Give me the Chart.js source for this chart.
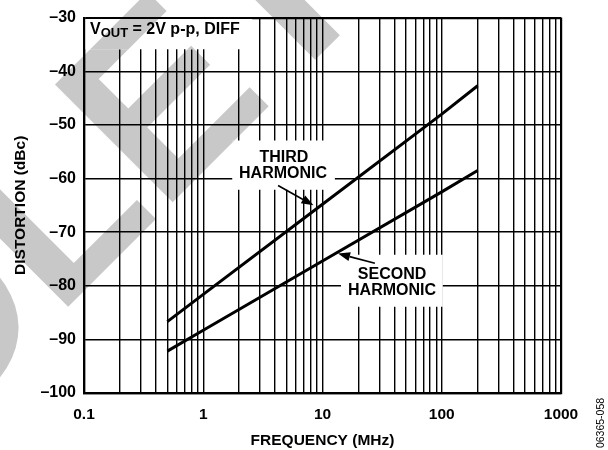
<!DOCTYPE html>
<html>
<head>
<meta charset="utf-8">
<script src="https://cdn.jsdelivr.net/npm/chart.js@4/dist/chart.umd.min.js"></script>
<style>
  html, body { margin: 0; padding: 0; background: #fff; }
</style>
</head>
<body>
<canvas id="myChart" width="608" height="450"></canvas>
<script>
const frequencyMHz = [0.5, 1, 10, 100, 200]
const thirdHarmonic = [-86.7, -81.6, -64.8, -48.0, -42.7]
const secondHarmonic = [-92.2, -88.3, -75.4, -62.5, -58.5]
const xTickLabels = [0.1, 1, 10, 100, 1000]
const yTickLabels = [-100, -90, -80, -70, -60, -50, -40, -30]

const FONT = '"Liberation Sans", Arial, Helvetica, sans-serif'

// minor grid on the log axis: 1..9 in each decade
const xGridValues = []
xTickLabels.slice(0, -1).forEach(decade => {
  for (let m = 1; m <= 9; m++) xGridValues.push(decade * m)
})
xGridValues.push(xTickLabels[xTickLabels.length - 1])

// label boxes that cut the grid (data units)
const labelBoxes = [
  { x: [0.1, 2.5], y: [-30, -35.6] },
  { x: [1.75, 12.7], y: [-52.9, -62.1] },
  { x: [14.3, 102], y: [-74.2, -83.9] }
]

function drawWatermark (ctx) {
  ctx.save()
  ctx.fillStyle = '#c8c8c8'
  ctx.font = 'bold 242px ' + FONT
  ctx.textBaseline = 'alphabetic'
  ctx.translate(68, 307)
  ctx.rotate(-Math.PI / 4)
  const lead = ctx.measureText('OBSO').width - ctx.measureText('L').actualBoundingBoxLeft
  ctx.fillText('OBSOLETE', -lead, 0)
  ctx.restore()
}

function drawArrow (ctx, x0, y0, x1, y1) {
  const ang = Math.atan2(y1 - y0, x1 - x0)
  const head = 12
  const half = 4.5
  const bx = x1 - head * Math.cos(ang)
  const by = y1 - head * Math.sin(ang)
  ctx.beginPath()
  ctx.moveTo(x0, y0)
  ctx.lineTo(bx, by)
  ctx.lineWidth = 1.6
  ctx.strokeStyle = '#000'
  ctx.stroke()
  ctx.beginPath()
  ctx.moveTo(x1, y1)
  ctx.lineTo(bx + half * Math.sin(ang), by - half * Math.cos(ang))
  ctx.lineTo(bx - half * Math.sin(ang), by + half * Math.cos(ang))
  ctx.closePath()
  ctx.fillStyle = '#000'
  ctx.fill()
}

const decorations = {
  id: 'decorations',
  beforeDraw (chart) {
    const ctx = chart.ctx
    ctx.save()
    ctx.fillStyle = '#fff'
    ctx.fillRect(0, 0, chart.width, chart.height)
    ctx.restore()
    drawWatermark(ctx)
  },
  beforeDatasetsDraw (chart) {
    const ctx = chart.ctx
    const xs = chart.scales.x
    const ys = chart.scales.y
    ctx.save()
    ctx.beginPath()
    labelBoxes.forEach(b => {
      const l = xs.getPixelForValue(b.x[0])
      const r = xs.getPixelForValue(b.x[1])
      const t = ys.getPixelForValue(b.y[0])
      const btm = ys.getPixelForValue(b.y[1])
      ctx.rect(l + (b.x[0] === 0.1 ? 1.5 : 0), t + (b.y[0] === -30 ? 1.5 : 0), r - l, btm - t)
    })
    ctx.clip()
    ctx.fillStyle = '#fff'
    ctx.fillRect(0, 0, chart.width, chart.height)
    drawWatermark(ctx)
    ctx.restore()
  },
  afterDatasetsDraw (chart) {
    const ctx = chart.ctx
    const xs = chart.scales.x
    const ys = chart.scales.y
    const px = v => xs.getPixelForValue(v)
    const py = v => ys.getPixelForValue(v)
    ctx.save()
    ctx.fillStyle = '#000'
    ctx.textBaseline = 'alphabetic'

    // V_OUT label
    ctx.textAlign = 'left'
    ctx.font = 'bold 16px ' + FONT
    let x = chart.chartArea.left + 6
    ctx.fillText('V', x, 33.5)
    x += ctx.measureText('V').width
    ctx.font = 'bold 13px ' + FONT
    ctx.fillText('OUT', x, 37)
    x += ctx.measureText('OUT').width
    ctx.font = 'bold 16px ' + FONT
    ctx.fillText(' = 2V p-p, DIFF', x, 33.5)

    // curve labels
    ctx.textAlign = 'center'
    ctx.fillText('THIRD', px(4.75), py(-56.9))
    ctx.fillText('HARMONIC', px(4.67), py(-60.0))
    ctx.fillText('SECOND', px(38.3), py(-78.8))
    ctx.fillText('HARMONIC', px(38.3), py(-81.7))

    drawArrow(ctx, px(4.24), py(-61.3), px(8.4), py(-65.0))
    drawArrow(ctx, px(27.5), py(-75.8), px(13.5), py(-74.0))

    ctx.restore()
  },
  afterDraw (chart) {
    const ctx = chart.ctx
    ctx.save()
    ctx.translate(601, 423)
    ctx.rotate(-Math.PI / 2)
    ctx.font = '10.5px ' + FONT
    ctx.fillStyle = '#000'
    ctx.textAlign = 'center'
    ctx.textBaseline = 'middle'
    ctx.fillText('06365-058', 0, 0)
    ctx.restore()
  }
}

const edgeWidth = (ctx, n) => (ctx.index === 0 || ctx.index === n - 1) ? 2.2 : 1.4

const configuration = {
  type: 'line',
  data: {
    datasets: [
      {
        label: 'Third Harmonic',
        data: frequencyMHz.map((f, i) => ({ x: f, y: thirdHarmonic[i] })),
        borderColor: '#000',
        borderWidth: 3,
        pointRadius: 0,
        tension: 0
      },
      {
        label: 'Second Harmonic',
        data: frequencyMHz.map((f, i) => ({ x: f, y: secondHarmonic[i] })),
        borderColor: '#000',
        borderWidth: 3,
        pointRadius: 0,
        tension: 0
      }
    ]
  },
  options: {
    responsive: false,
    animation: false,
    layout: { padding: { top: 12, right: 47, left: 0, bottom: 0 } },
    scales: {
      x: {
        type: 'logarithmic',
        min: 0.1,
        max: 1000,
        afterBuildTicks: scale => { scale.ticks = xGridValues.map(v => ({ value: v })) },
        afterFit: scale => { scale.height = 57 },
        grid: {
          color: '#000',
          lineWidth: ctx => edgeWidth(ctx, xGridValues.length),
          drawTicks: false
        },
        border: { display: true, color: '#000', width: 2.2 },
        ticks: {
          autoSkip: false,
          maxRotation: 0,
          padding: 12,
          color: '#000',
          font: { family: FONT, size: 15.5, weight: 'bold' },
          callback: value => xTickLabels.includes(value) ? String(value) : ''
        },
        title: {
          display: true,
          text: 'FREQUENCY (MHz)',
          color: '#000',
          font: { family: FONT, size: 15.5, weight: 'bold' },
          padding: { top: 5, bottom: 0 }
        }
      },
      y: {
        type: 'linear',
        min: -100,
        max: -30,
        afterBuildTicks: scale => { scale.ticks = yTickLabels.map(v => ({ value: v })) },
        afterFit: scale => { scale.width = 84 },
        grid: {
          color: '#000',
          lineWidth: ctx => edgeWidth(ctx, yTickLabels.length),
          drawTicks: false
        },
        border: { display: true, color: '#000', width: 2.2 },
        ticks: {
          padding: 8,
          color: '#000',
          font: { family: FONT, size: 16, weight: 'bold' },
          callback: value => (value < 0 ? '\u2013' : '') + Math.abs(value)
        },
        title: {
          display: true,
          text: 'DISTORTION (dBc)',
          color: '#000',
          font: { family: FONT, size: 15.5, weight: 'bold' },
          padding: { top: 11, bottom: 0 }
        }
      }
    },
    plugins: {
      legend: { display: false },
      tooltip: { enabled: false }
    }
  },
  plugins: [decorations]
}

const myChart = new Chart(document.getElementById('myChart').getContext('2d'), configuration)
</script>
</body>
</html>
